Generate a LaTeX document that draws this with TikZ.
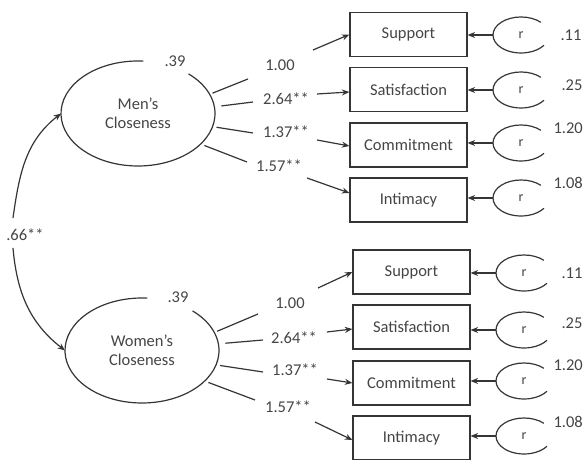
\documentclass[tikz,border=0pt]{standalone}
\usepackage{fontspec}
\setmainfont{Carlito}
\usetikzlibrary{shapes.geometric,arrows.meta,calc}
\definecolor{ink}{HTML}{353535}
\definecolor{txt}{HTML}{454545}
\begin{document}
\begin{tikzpicture}[x=1pt,y=1pt,
  font=\fontsize{16.5}{19}\selectfont,
  latent/.style={ellipse, minimum width=154pt, minimum height=105pt, inner sep=0pt, outer sep=0pt, align=center, text=txt},
  obs/.style={rectangle, draw=ink, line width=1.2pt, minimum width=117pt, minimum height=44pt, inner sep=0pt, text=txt},
  resid/.style={ellipse, minimum width=56pt, minimum height=36pt, inner sep=0pt, outer sep=0pt, text=txt, font=\fontsize{14}{16}\selectfont},
  lbl/.style={text=txt, inner sep=1pt},
  conn/.style={draw=ink, line width=1.2pt},
  arr/.style={conn, -{Stealth[length=7.5pt,width=6pt]}}
]
\useasboundingbox (0,0) rectangle (586,460);

% ---------- latent variables ----------
\node[latent] (men) at (138,346.5) {Men’s\\Closeness};
\node[latent] (women) at (142,109.5) {Women’s\\Closeness};
\draw[conn] ([shift={(86:77pt and 52.5pt)}]men.center) arc[start angle=86, end angle=409, x radius=77pt, y radius=52.5pt];
\draw[conn] ([shift={(86:77pt and 52.5pt)}]women.center) arc[start angle=86, end angle=409, x radius=77pt, y radius=52.5pt];
\node[lbl] (mvar) at (175,399) {.39};
\node[lbl] (wvar) at (178,163) {.39};

% ---------- covariance ----------
\node[lbl] (cov) at (25,225) {.66**};
\coordinate (c1) at (13,242);
\coordinate (c2) at (13,212);
\draw[arr] (c1) to[out=82, in=218] (men.west);
\draw[arr] (c2) to[out=-85, in=142] (women.west);

% ---------- observed (men) ----------
\node[obs] (ms1) at (408.5,425.5) {Support};
\node[obs] (ms2) at (408.5,370.5) {Satisfaction};
\node[obs] (ms3) at (408.5,315) {Commitment};
\node[obs] (ms4) at (408.5,260) {Intimacy};

% ---------- observed (women) ----------
\node[obs] (ws1) at (411.5,188) {Support};
\node[obs] (ws2) at (411.5,133) {Satisfaction};
\node[obs] (ws3) at (411.5,77) {Commitment};
\node[obs] (ws4) at (411.5,22) {Intimacy};

% ---------- residuals ----------
\foreach \n/\y in {1/425,2/370,3/317,4/262}{
  \node[resid] (mr\n) at (521,\y) {r};
  \draw[conn] ([shift={(45:28pt and 18pt)}]mr\n.center) arc[start angle=45, end angle=325, x radius=28pt, y radius=18pt];
  \draw[arr] (mr\n.west) -- (mr\n.west -| ms\n.east);
}
\foreach \n/\y in {1/187,2/130,3/79,4/24}{
  \node[resid] (wr\n) at (524,\y) {r};
  \draw[conn] ([shift={(45:28pt and 18pt)}]wr\n.center) arc[start angle=45, end angle=325, x radius=28pt, y radius=18pt];
  \draw[arr] (wr\n.west) -- (wr\n.west -| ws\n.east);
}
\node[lbl] (mrv1) at (571,425) {.11};
\node[lbl] (mrv2) at (572,375) {.25};
\node[lbl, anchor=east] (mrv3) at (584,332) {1.20};
\node[lbl, anchor=east] (mrv4) at (584,277) {1.08};
\node[lbl] (wrv1) at (572,187) {.11};
\node[lbl] (wrv2) at (572,137) {.25};
\node[lbl, anchor=east] (wrv3) at (584,95) {1.20};
\node[lbl, anchor=east] (wrv4) at (584,38) {1.08};

% ---------- loadings (men) ----------
\node[lbl] (ml1) at (280,395) {1.00};
\node[lbl] (ml2) at (286,361) {2.64**};
\node[lbl] (ml3) at (286,328) {1.37**};
\node[lbl] (ml4) at (279,294) {1.57**};
\coordinate (m1a) at (248,381); \coordinate (m1b) at (313,410);
\coordinate (m2a) at (253,358); \coordinate (m2b) at (317,366);
\coordinate (m3a) at (253,327); \coordinate (m3b) at (317,320);
\coordinate (m4a) at (247,298); \coordinate (m4b) at (307,282);
\draw[conn, shorten <=3pt] (men.15) -- (m1a);
\draw[conn, shorten <=7pt] (men.5) -- (m2a);
\draw[conn, shorten <=4pt] (men.-10) -- (m3a);
\draw[conn, shorten <=4pt] (men.-26) -- (m4a);
\draw[arr] (m1b) -- (ms1.west);
\draw[arr] (m2b) -- ([yshift=-2.5pt]ms2.west);
\draw[arr] (m3b) -- ([yshift=-1pt]ms3.west);
\draw[arr] (m4b) -- ([yshift=7pt]ms4.west);

% ---------- loadings (women) ----------
\node[lbl] (wl1) at (290,157) {1.00};
\node[lbl] (wl2) at (294,122) {2.64**};
\node[lbl] (wl3) at (295,90) {1.37**};
\node[lbl] (wl4) at (288,53) {1.57**};
\coordinate (w1a) at (258,146); \coordinate (w1b) at (318,172);
\coordinate (w2a) at (263,120); \coordinate (w2b) at (327,128);
\coordinate (w3a) at (263,88);  \coordinate (w3b) at (327,81);
\coordinate (w4a) at (255,60);  \coordinate (w4b) at (315,38);
\draw[conn, shorten <=3pt] (women.14) -- (w1a);
\draw[conn, shorten <=7pt] (women.5) -- (w2a);
\draw[conn, shorten <=4pt] (women.-11) -- (w3a);
\draw[conn, shorten <=4pt] (women.-26) -- (w4a);
\draw[arr] (w1b) -- (ws1.west);
\draw[arr] (w2b) -- ([yshift=-2pt]ws2.west);
\draw[arr] (w3b) -- (ws3.west);
\draw[arr] (w4b) -- ([yshift=-2pt]ws4.west);
\end{tikzpicture}
\end{document}
